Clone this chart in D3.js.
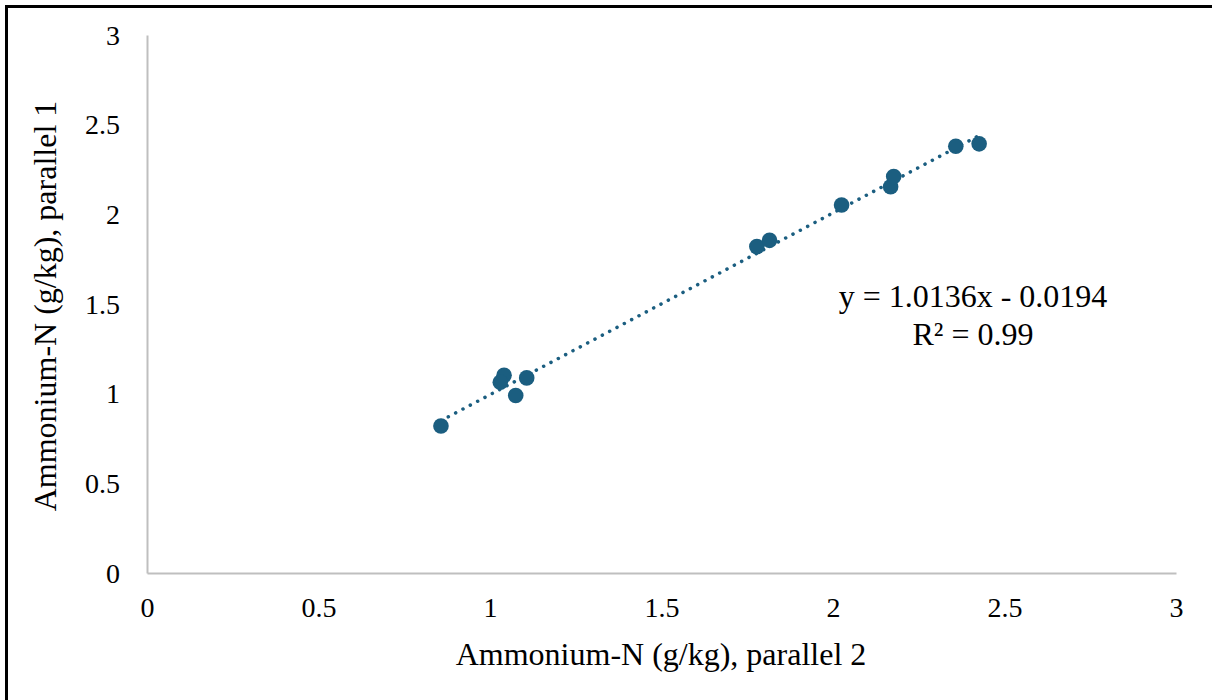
<!DOCTYPE html>
<html>
<head>
<meta charset="utf-8">
<script src="https://cdn.jsdelivr.net/npm/d3@7"></script>
<style>
    body { margin: 0; background: #fff; }
    svg text { font-family: "Liberation Serif", "Times New Roman", serif; fill: #000; }
</style>
</head>
<body>
<svg id="chart" width="1212" height="700"></svg>
<script>
// Ammonium-N values (g/kg)
const parallel2 = [0.857, 1.041, 1.030, 1.075, 1.107, 1.778, 1.815, 2.025, 2.168, 2.177, 2.358, 2.426];
const parallel1 = [0.820, 1.102, 1.064, 0.990, 1.088, 1.820, 1.855, 2.052, 2.154, 2.211, 2.380, 2.393];

// trendline from the equation shown on the chart
const slope = 1.0136;
const intercept = -0.0194;
const rSquared = 0.99;

const xTicks = [0, 0.5, 1, 1.5, 2, 2.5, 3];
const yTicks = [0, 0.5, 1, 1.5, 2, 2.5, 3];

const color = "#1b5e80";
const axisColor = "#bfbfbf";

const svg = d3.select("#chart");

const x = d3.scaleLinear().domain([0, 3]).range([147, 1176]);
const y = d3.scaleLinear().domain([0, 3]).range([573, 35]);

// outer frame (right and bottom edges fall outside the picture)
svg.append("rect")
    .attr("x", 6.5).attr("y", 6.5)
    .attr("width", 1400).attr("height", 900)
    .attr("fill", "none")
    .attr("stroke", "#000")
    .attr("stroke-width", 3);

// axes
const xAxis = svg.append("g")
    .attr("transform", `translate(0,${y(0)})`)
    .call(d3.axisBottom(x).tickValues(xTicks).tickSize(0).tickPadding(0).tickFormat(d3.format("")))
    .attr("font-family", null);
xAxis.select(".domain").attr("stroke", axisColor).attr("stroke-width", 2);
xAxis.selectAll("text")
    .attr("dy", null)
    .attr("y", 44)
    .style("font-size", "28px");

const yAxis = svg.append("g")
    .attr("transform", `translate(${x(0)},0)`)
    .call(d3.axisLeft(y).tickValues(yTicks).tickSize(0).tickPadding(0).tickFormat(d3.format("")))
    .attr("font-family", null);
yAxis.select(".domain").attr("stroke", axisColor).attr("stroke-width", 2);
yAxis.selectAll("text")
    .attr("x", -27)
    .attr("dy", "0.33em")
    .style("font-size", "28px");

// trendline
const xMin = d3.min(parallel2), xMax = d3.max(parallel2);
svg.append("line")
    .attr("x1", x(xMin)).attr("y1", y(slope * xMin + intercept))
    .attr("x2", x(xMax)).attr("y2", y(slope * xMax + intercept))
    .attr("stroke", color)
    .attr("stroke-width", 3.5)
    .attr("stroke-linecap", "round")
    .attr("stroke-dasharray", "0.1 8.2");

// points
svg.append("g")
    .selectAll("circle")
    .data(parallel2.map((d, i) => [d, parallel1[i]]))
    .enter()
    .append("circle")
    .attr("cx", d => x(d[0]))
    .attr("cy", d => y(d[1]))
    .attr("r", 7.8)
    .attr("fill", color);

// equation
const eq = svg.append("text")
    .attr("text-anchor", "middle")
    .style("font-size", "32px");
eq.append("tspan").attr("x", 973).attr("y", 307)
    .text(`y = ${slope}x - ${Math.abs(intercept)}`);
eq.append("tspan").attr("x", 973).attr("y", 345)
    .text(`R² = ${rSquared}`);

// axis titles
svg.append("text")
    .attr("x", 661).attr("y", 665)
    .attr("text-anchor", "middle")
    .style("font-size", "32px")
    .text("Ammonium-N (g/kg), parallel 2");

svg.append("text")
    .attr("transform", `translate(56,306) rotate(-90)`)
    .attr("text-anchor", "middle")
    .style("font-size", "32px")
    .text("Ammonium-N (g/kg), parallel 1");
</script>
</body>
</html>
